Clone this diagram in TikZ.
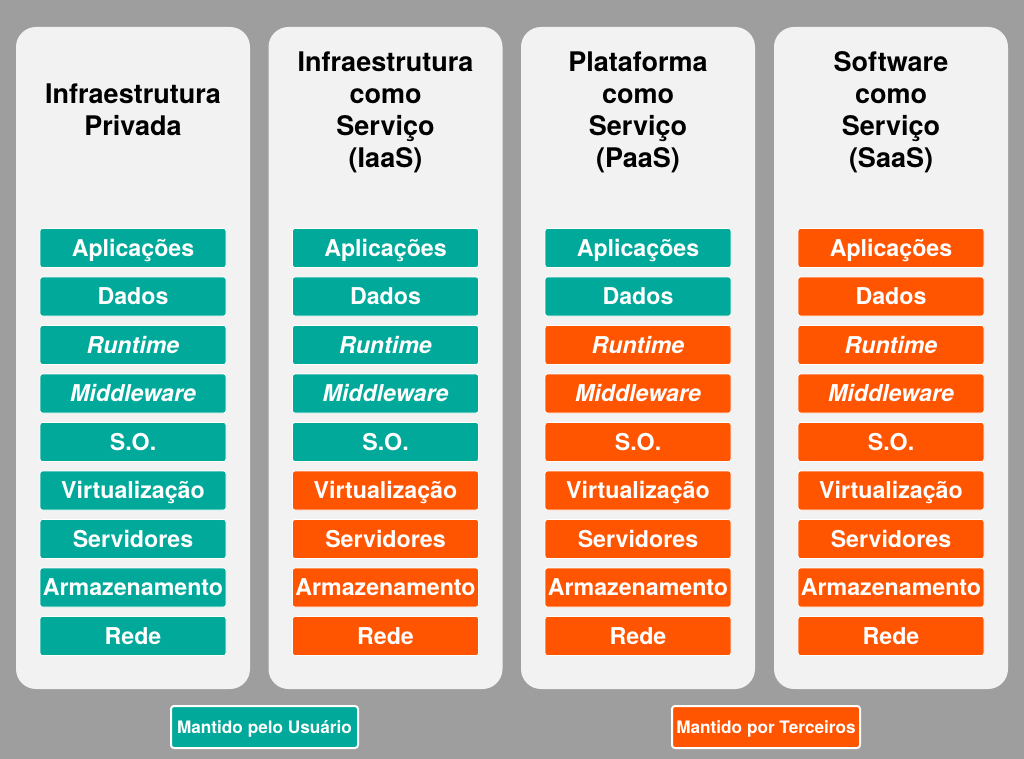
\documentclass[tikz,border=0pt]{standalone}
\usepackage{fontspec}
\setmainfont{TeX Gyre Heros}
\definecolor{bgc}{HTML}{9E9E9E}
\definecolor{panelc}{HTML}{F2F2F2}
\definecolor{userc}{HTML}{00A99A}
\definecolor{thirdc}{HTML}{FF5400}
\tikzset{
  panel/.style={rectangle, rounded corners=20pt, fill=panelc, draw=none,
    minimum width=234pt, minimum height=662pt, inner sep=0pt},
  layer/.style={rectangle, rounded corners=2.5pt, draw=white, line width=0.8pt,
    minimum width=186pt, minimum height=39pt, inner xsep=0pt, inner ysep=0pt,
    text=white, font=\bfseries\fontsize{23.2}{27}\selectfont,
    text height=16.6pt, text depth=0pt},
  legend/.style={rectangle, rounded corners=3pt, draw=white, line width=2pt,
    minimum height=42pt, inner xsep=0pt, inner ysep=0pt,
    text=white, font=\bfseries\fontsize{17.2}{20}\selectfont,
    text height=12.3pt, text depth=0pt},
  title/.style={anchor=base, font=\bfseries\fontsize{27}{32}\selectfont, text=black, inner sep=0pt}
}
\begin{document}
\begin{tikzpicture}[x=1pt,y=-1pt]
  \fill[bgc] (0,0) rectangle (1024,759);
  \useasboundingbox (0,0) rectangle (1024,759);

  % columns: index / centre x / number of layers kept by the user
  \foreach \c/\x/\n in {1/133/9, 2/385.5/5, 3/638/2, 4/891/0} {
    \node[panel] (p\c) at (\x,358) {};
    \foreach \lbl [count=\i from 0] in {Aplicações, Dados, \textit{Runtime},
        \textit{Middleware}, S.O., Virtualização, Servidores, Armazenamento, Rede} {
      \pgfmathsetmacro\yy{248+48.5*\i}
      \ifnum\i<\n \def\fc{userc}\else\def\fc{thirdc}\fi
      \node[layer, fill=\fc] (b\c-\i) at (\x,\yy) {\lbl};
    }
  }

  % column titles
  \node[title] (t1a) at (133,104) {Infraestrutura};
  \node[title] (t1b) at (133,136) {Privada};

  \node[title] (t2a) at (385.5,72) {Infraestrutura};
  \node[title] (t2b) at (385.5,104) {como};
  \node[title] (t2c) at (385.5,136) {Serviço};
  \node[title] (t2d) at (385.5,168) {(IaaS)};

  \node[title] (t3a) at (638,72) {Plataforma};
  \node[title] (t3b) at (638,104) {como};
  \node[title] (t3c) at (638,136) {Serviço};
  \node[title] (t3d) at (638,168) {(PaaS)};

  \node[title] (t4a) at (891,72) {Software};
  \node[title] (t4b) at (891,104) {como};
  \node[title] (t4c) at (891,136) {Serviço};
  \node[title] (t4d) at (891,168) {(SaaS)};

  % legend
  \node[legend, fill=userc, minimum width=187pt] (leg1) at (264.5,727) {Mantido pelo Usuário};
  \node[legend, fill=thirdc, minimum width=188pt] (leg2) at (766,727) {Mantido por Terceiros};
\end{tikzpicture}
\end{document}
